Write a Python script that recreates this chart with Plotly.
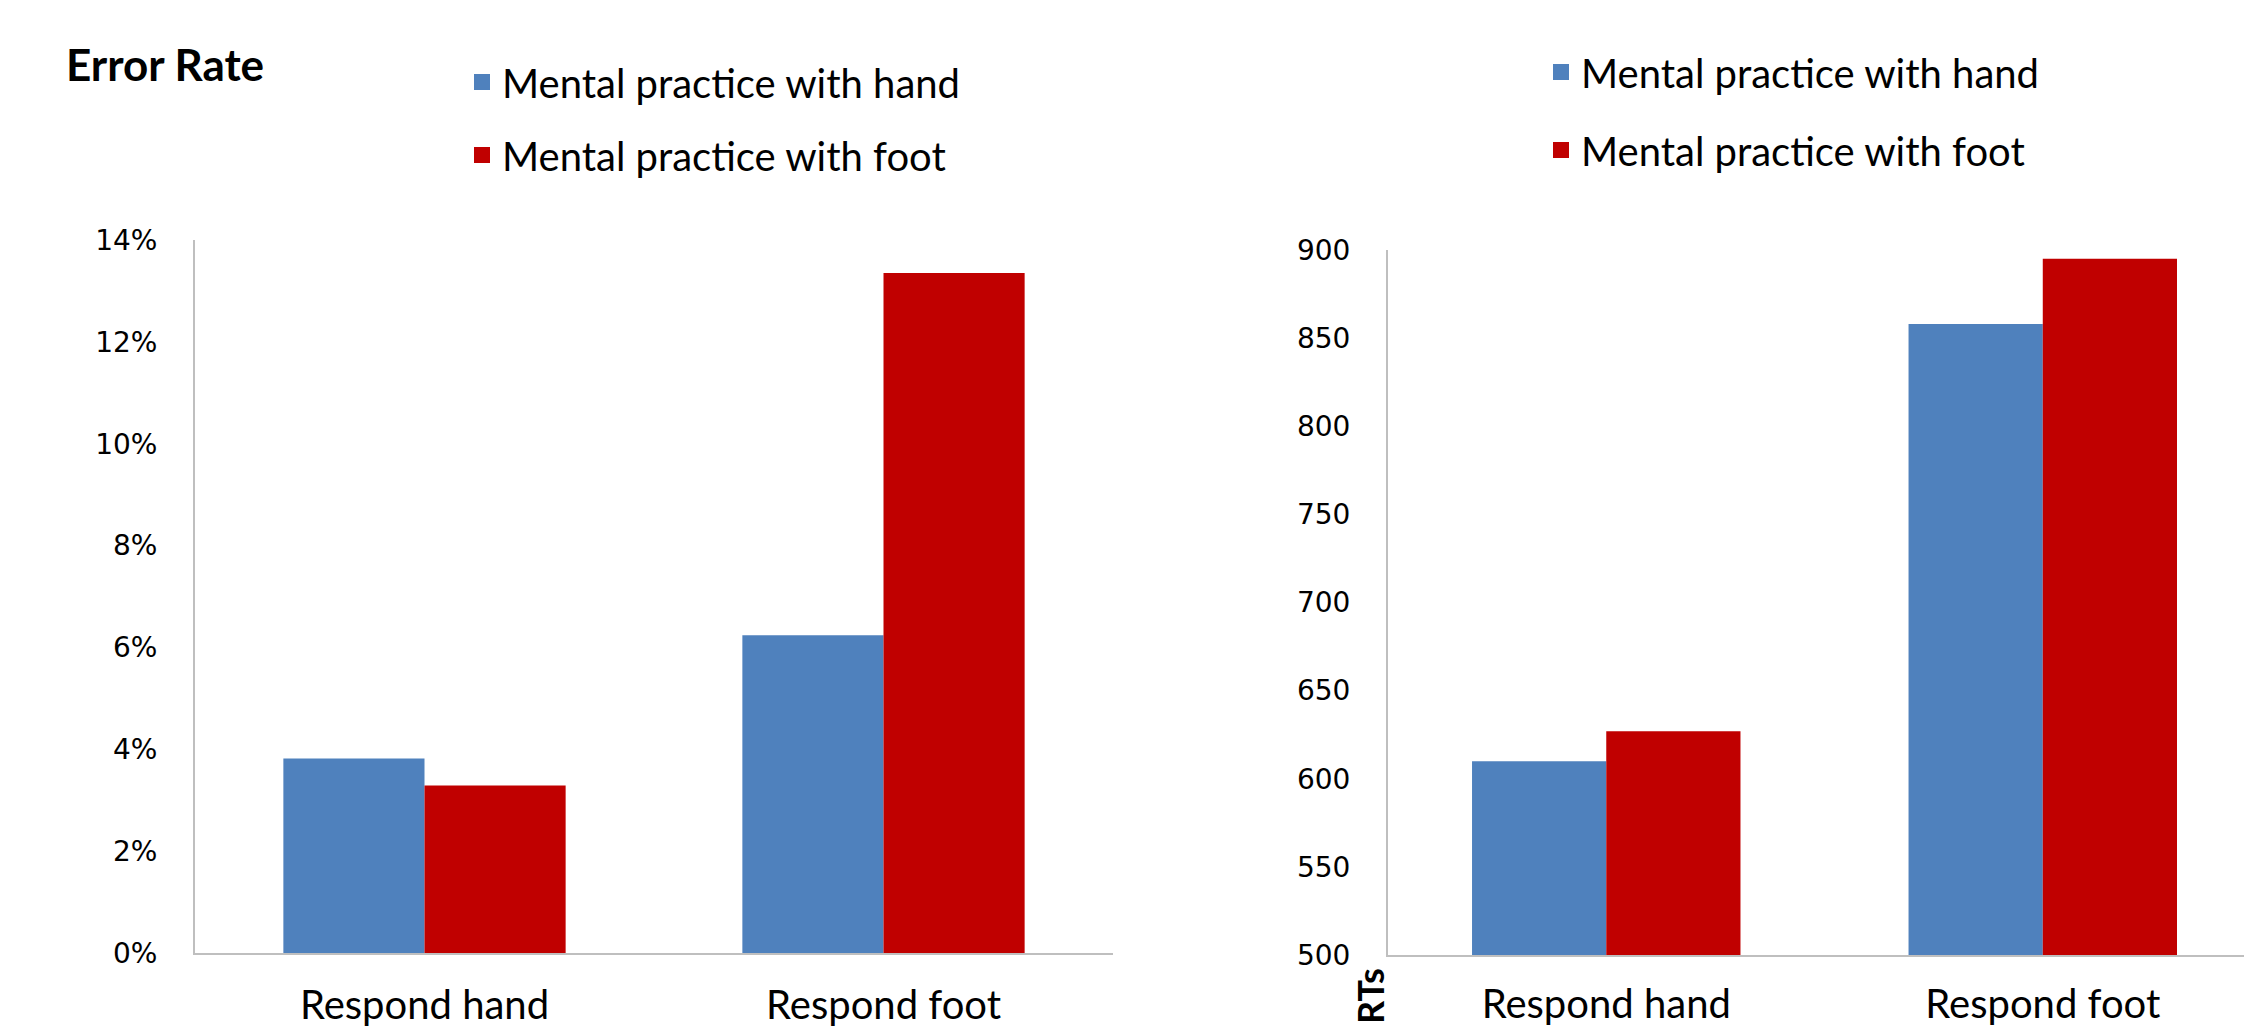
import plotly.graph_objects as go

categories = ["Respond hand", "Respond foot"]
series_names = ["Mental practice with hand", "Mental practice with foot"]
error_hand = [0.0382, 0.0624]
error_foot = [0.0329, 0.1335]
rt_hand = [610, 858]
rt_foot = [627, 895]
err_ticks = [0, 0.02, 0.04, 0.06, 0.08, 0.10, 0.12, 0.14]
rt_ticks = [500, 550, 600, 650, 700, 750, 800, 850, 900]

BLUE = "#4F81BD"
RED = "#C00000"
W, H = 2244, 1029
CAT_FONT = "Lato"
NUM_FONT = "DejaVu Sans"

fig = go.Figure()
panels = [
    ("x", "y", error_hand, error_foot, "legend", "legend2"),
    ("x2", "y2", rt_hand, rt_foot, "legend3", "legend4"),
]
for xa, ya, vals_hand, vals_foot, lg_hand, lg_foot in panels:
    for vals, color, name, lg in [(vals_hand, BLUE, series_names[0], lg_hand),
                                  (vals_foot, RED, series_names[1], lg_foot)]:
        fig.add_trace(go.Bar(x=categories, y=vals, name=name,
                             marker=dict(color=color, line=dict(width=0)),
                             xaxis=xa, yaxis=ya, showlegend=False, hoverinfo="x+y"))
        # legend entry with a larger square swatch
        fig.add_trace(go.Scatter(x=[None], y=[None], mode="markers", name=name,
                                 marker=dict(symbol="square", size=23, color=color),
                                 xaxis=xa, yaxis=ya, legend=lg, showlegend=True))

def px(x):
    return x / W

def py(y):
    return 1 - y / H

axis_line = dict(showline=True, linecolor="#BFBFBF", linewidth=2, showgrid=False, zeroline=False,
                 automargin=False)
xcommon = dict(**axis_line, ticks="outside", tickcolor="rgba(0,0,0,0)",
               tickfont=dict(family=CAT_FONT, size=40, color="#000000"), fixedrange=True)
ycommon = dict(**axis_line, ticks="outside", ticklen=30, tickcolor="rgba(0,0,0,0)",
               tickfont=dict(family=NUM_FONT, size=28, color="#000000"), fixedrange=True)

legend_common = dict(font=dict(family=CAT_FONT, size=40, color="#000000"), bgcolor="rgba(0,0,0,0)",
                     xanchor="left", yanchor="middle", borderwidth=0, itemclick=False,
                     itemdoubleclick=False, itemsizing="trace")

fig.update_layout(
    width=W, height=H,
    margin=dict(l=0, r=0, t=0, b=0, autoexpand=False),
    paper_bgcolor="white", plot_bgcolor="white",
    showlegend=True,
    barmode="group", bargap=0.385, bargroupgap=0,
    xaxis=dict(**xcommon, ticklen=16, domain=[px(195), px(1113)], anchor="y", range=[-0.5, 1.5]),
    yaxis=dict(**ycommon, domain=[py(953), py(240)], anchor="x", range=[0, 0.14],
               tickvals=err_ticks, tickformat=".0%"),
    xaxis2=dict(**xcommon, ticklen=13, domain=[px(1388), 1.0], anchor="y2", range=[-0.5, 1.461]),
    yaxis2=dict(**ycommon, domain=[py(955), py(250)], anchor="x2", range=[500, 900],
                tickvals=rt_ticks),
    legend=dict(**legend_common, x=px(462), y=py(82)),
    legend2=dict(**legend_common, x=px(462), y=py(155)),
    legend3=dict(**legend_common, x=px(1541), y=py(72)),
    legend4=dict(**legend_common, x=px(1541), y=py(150)),
    annotations=[
        dict(text="<b>Error Rate</b>", x=px(64), y=py(64), xref="paper", yref="paper",
             xanchor="left", yanchor="middle", showarrow=False,
             font=dict(family=CAT_FONT, size=44, color="#000000")),
        dict(text="<b>RTs</b>", x=px(1370), y=py(996), xref="paper", yref="paper",
             xanchor="center", yanchor="middle", showarrow=False, textangle=-90,
             font=dict(family=CAT_FONT, size=36, color="#000000")),
    ],
)

fig.write_html("out.html")
